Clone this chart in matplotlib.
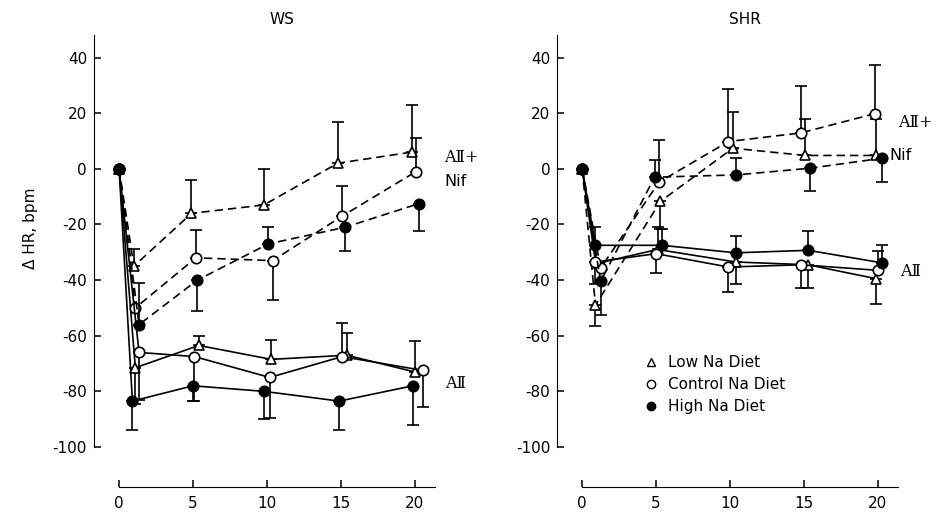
import numpy as np
import matplotlib
matplotlib.use('Agg')
import matplotlib.pyplot as plt
from matplotlib.lines import Line2D

plt.rcParams['axes.unicode_minus'] = False

# tempo (min), ΔHR (bpm) e erro padrão (positivo = barra para cima, negativo = para baixo)
# WS, AII + Nif (tracejado)
ws_low_nif_x = [0, 1.0, 4.9, 9.8, 14.8, 19.8]
ws_low_nif_y = [0, -35, -16, -13, 2, 6]
ws_low_nif_err = [0, 6, 12, 13, 15, 17]
ws_ctl_nif_x = [0, 1.1, 5.2, 10.4, 15.1, 20.1]
ws_ctl_nif_y = [0, -50, -32, -33, -17, -1]
ws_ctl_nif_err = [0, 0, 10, -14, 11, 12]
ws_high_nif_x = [0, 1.35, 5.3, 10.1, 15.3, 20.3]
ws_high_nif_y = [0, -56, -40, -27, -21, -12.5]
ws_high_nif_err = [0, 15, -11, 6, -8.5, -10]

# WS, AII (linha cheia)
ws_low_ii_x = [0, 1.1, 5.4, 10.3, 15.4, 20.0]
ws_low_ii_y = [0, -71.5, -63.5, -68.5, -67, -73]
ws_low_ii_err = [0, -13, 3.5, 7, 8, 11]
ws_ctl_ii_x = [0, 1.35, 5.1, 10.2, 15.1, 20.6]
ws_ctl_ii_y = [0, -66, -67.5, -75, -67.5, -72.5]
ws_ctl_ii_err = [0, -17, -16, -14.5, 12, -13]
ws_high_ii_x = [0, 0.9, 5.0, 9.8, 14.9, 19.9]
ws_high_ii_y = [0, -83.5, -78, -80, -83.5, -78]
ws_high_ii_err = [0, -10.5, -5.5, -10, -10.5, -14]

# SHR, AII + Nif (tracejado)
shr_low_nif_x = [0, 0.9, 5.3, 10.2, 15.1, 19.9]
shr_low_nif_y = [0, -49, -11.7, 7.4, 4.8, 4.8]
shr_low_nif_err = [0, -7.5, -10, 13, 13, 13]
shr_ctl_nif_x = [0, 1.25, 5.2, 9.9, 14.8, 19.8]
shr_ctl_nif_y = [0, -35.7, -4.8, 9.8, 12.9, 19.8]
shr_ctl_nif_err = [0, 0, 15, 19, 17, 17.6]
shr_high_nif_x = [0, 1.25, 4.9, 10.4, 15.4, 20.3]
shr_high_nif_y = [0, -40.5, -3, -2.2, 0.2, 3.8]
shr_high_nif_err = [0, -12, 6, 6, -8, -8.5]

# SHR, AII (linha cheia)
shr_low_ii_x = [0, 1.0, 5.1, 10.4, 15.3, 19.9]
shr_low_ii_y = [0, -34, -29, -33.5, -34.5, -39.5]
shr_low_ii_err = [0, 0, 8, -8, -8.5, -9]
shr_ctl_ii_x = [0, 0.9, 5.0, 9.9, 14.8, 20.05]
shr_ctl_ii_y = [0, -33.5, -30.5, -35.3, -34.5, -36.5]
shr_ctl_ii_err = [0, -8, -7, -9, -8.5, 7]
shr_high_ii_x = [0, 0.9, 5.4, 10.4, 15.3, 20.3]
shr_high_ii_y = [0, -27.5, -27.5, -30.2, -29.3, -33.8]
shr_high_ii_err = [0, 6.5, 6, 6, 7, 6.3]

legend_labels = ['Low Na Diet', 'Control Na Diet', 'High Na Diet']
x_ticks = [0, 5, 10, 15, 20]
y_ticks = [40, 20, 0, -20, -40, -60, -80, -100]


def serie(ax, x, y, err, marker, fill, ls, z):
    x, y, err = np.asarray(x), np.asarray(y), np.asarray(err, dtype=float)
    m = err != 0
    lo = np.where(err < 0, -err, 0)
    hi = np.where(err > 0, err, 0)
    ax.errorbar(x[m], y[m], yerr=[lo[m], hi[m]], fmt='none', ecolor='black',
                elinewidth=1.2, capsize=4, capthick=1.2, zorder=z - 1)
    ax.plot(x, y, color='black', ls=ls, lw=1.2, marker=marker, mfc=fill,
            mec='black', mew=1.2, ms=7.5 if marker == 'o' else 7, zorder=z)


def painel(ax, titulo, dados, rotulos):
    for (lx, ly, le), (cx, cy, ce), (hx, hy, he), ls in dados:
        serie(ax, lx, ly, le, '^', 'white', ls, 4)
        serie(ax, cx, cy, ce, 'o', 'white', ls, 5)
        serie(ax, hx, hy, he, 'o', 'black', ls, 6)
    ax.set_xlim(-1.7, 22)
    ax.set_ylim(-100, 48)
    for s in ['top', 'right']:
        ax.spines[s].set_visible(False)
    ax.spines['left'].set_bounds(-100, 48)
    ax.spines['bottom'].set_position(('outward', 29))
    ax.spines['bottom'].set_bounds(0, 21.4)
    ax.set_xticks(x_ticks)
    ax.set_yticks(y_ticks)
    ax.tick_params(direction='in', length=5, width=1.1, labelsize=11)
    ax.tick_params(axis='x', pad=6)
    ax.tick_params(axis='y', pad=5)
    ax.text(0.537, 1.02, titulo, transform=ax.transAxes, ha='center', va='bottom', fontsize=11)
    for txt, xx, yy in rotulos:
        fam = 'DejaVu Serif' if 'Ⅱ' in txt else 'DejaVu Sans'
        ax.text(xx, yy, txt, fontsize=11.5, ha='left', va='center', clip_on=False,
                family=fam)


fig = plt.figure(figsize=(9.41, 5.22), dpi=100)
ax1 = fig.add_axes([0.0999, 0.1437, 0.372, 0.7887])
ax2 = fig.add_axes([0.592, 0.1437, 0.372, 0.7887])

dash = (0, (5, 3))
painel(ax1, 'WS', [
    ((ws_low_nif_x, ws_low_nif_y, ws_low_nif_err),
     (ws_ctl_nif_x, ws_ctl_nif_y, ws_ctl_nif_err),
     (ws_high_nif_x, ws_high_nif_y, ws_high_nif_err), dash),
    ((ws_low_ii_x, ws_low_ii_y, ws_low_ii_err),
     (ws_ctl_ii_x, ws_ctl_ii_y, ws_ctl_ii_err),
     (ws_high_ii_x, ws_high_ii_y, ws_high_ii_err), '-'),
], [('AⅡ+', 22.0, 4), ('Nif', 22.0, -4.7), ('AⅡ', 22.1, -77)])

painel(ax2, 'SHR', [
    ((shr_low_nif_x, shr_low_nif_y, shr_low_nif_err),
     (shr_ctl_nif_x, shr_ctl_nif_y, shr_ctl_nif_err),
     (shr_high_nif_x, shr_high_nif_y, shr_high_nif_err), dash),
    ((shr_low_ii_x, shr_low_ii_y, shr_low_ii_err),
     (shr_ctl_ii_x, shr_ctl_ii_y, shr_ctl_ii_err),
     (shr_high_ii_x, shr_high_ii_y, shr_high_ii_err), '-'),
], [('AⅡ+', 21.4, 16.8), ('Nif', 20.8, 4.9), ('AⅡ', 21.5, -37)])

handles = [Line2D([], [], ls='none', marker='^', mfc='white', mec='black', ms=6),
           Line2D([], [], ls='none', marker='o', mfc='white', mec='black', ms=6),
           Line2D([], [], ls='none', marker='o', mfc='black', mec='black', ms=6)]
ax2.legend(handles, legend_labels, loc='upper left', bbox_to_anchor=(0.23, 0.238),
           frameon=False, fontsize=11, handlelength=1.0, handletextpad=0.6,
           labelspacing=0.45, borderaxespad=0)

fig.text(30 / 941, 1 - 228 / 522, 'Δ HR, bpm', rotation=90, ha='center', va='center', fontsize=11)

fig.savefig('out.png', dpi=100)
